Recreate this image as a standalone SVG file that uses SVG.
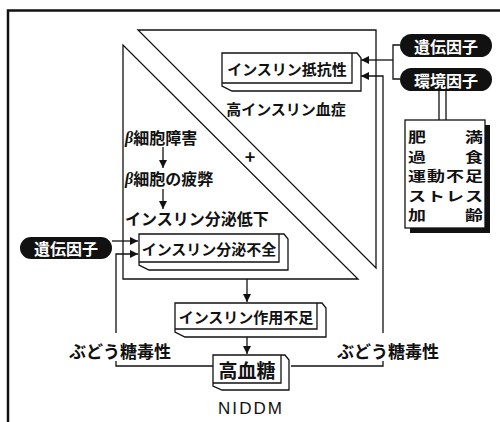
<svg xmlns="http://www.w3.org/2000/svg" width="500" height="422" viewBox="0 0 500 422">
<style>
.ln{fill:none;stroke:#111;stroke-width:1.3}
.ar{fill:none;stroke:#111;stroke-width:1.3;marker-end:url(#ah)}
.t{font-family:"Noto Sans CJK JP","Noto Sans",sans-serif;font-weight:bold;fill:#111;dominant-baseline:central}
.w{font-family:"Noto Sans CJK JP","Noto Sans",sans-serif;font-weight:bold;fill:#fff;dominant-baseline:central;text-anchor:middle;font-size:16px}
.m{text-anchor:middle}
.box{fill:#fff;stroke:#111;stroke-width:1.3;stroke-linejoin:miter}
.pill{fill:#111}
</style>
<defs>
<marker id="ah" markerUnits="userSpaceOnUse" markerWidth="9" markerHeight="8" refX="8" refY="4" orient="auto">
<path d="M0,0 L8,4 L0,8 z" fill="#111"/>
</marker>
</defs>
<rect width="500" height="422" fill="#fff"/>
<g id="frame">
<path d="M8,422 V10.5 H500" fill="none" stroke="#111" stroke-width="2.5"/>
</g>
<g id="triangles">
<polygon class="ln" points="138,30 376,30 376,268"/>
<polygon class="ln" points="123,45 123,279 358,279"/>
<text class="t m" x="250" y="156" font-size="18" font-weight="normal">+</text>
</g>
<g id="connectors">
<path class="ln" d="M400,45 H393 V79 H400"/>
<path class="ar" d="M393,60 H361"/>
<path class="ar" d="M291,366 H383 V361 M383,333 V76 H361"/>
<path class="ar" d="M213,366 H116 V361 M116,333 V254 H138"/>
<path class="ar" d="M112,241 H138"/>
<path class="ln" d="M439,90 V120 M446,90 V120"/>
<path class="ar" d="M163,147 V168"/>
<path class="ar" d="M163,189 V209"/>
<path class="ar" d="M247,279 V302"/>
<path class="ar" d="M247,337 V354"/>
</g>
<g id="resistance">
<path class="box" d="M222,53 H357 L361,58 V91 H232 L222,86 Z"/>
<path class="ln" d="M352,53 V83 H222"/>
<text class="t m" x="287" y="68" font-size="15">インスリン抵抗性</text>
</g>
<g id="hyperinsulinemia">
<text class="t m" x="286" y="108" font-size="15">高インスリン血症</text>
</g>
<g id="gene-right">
<rect class="pill" x="400" y="34" width="92" height="23" rx="11.5"/>
<text class="w" x="446" y="45.5">遺伝因子</text>
</g>
<g id="env-right">
<rect class="pill" x="400" y="68" width="92" height="23" rx="11.5"/>
<text class="w" x="446" y="79.5">環境因子</text>
</g>
<g id="env-list">
<rect x="410" y="125" width="80" height="108" fill="#111"/>
<rect x="405" y="120" width="80" height="108" fill="#fff" stroke="#111" stroke-width="1.3"/>
<g transform="scale(1,0.74)">
<text class="t" font-size="18" letter-spacing="1" x="408" y="185.1">肥　　満</text>
<text class="t" font-size="18" letter-spacing="1" x="408" y="211.5">過　　食</text>
<text class="t" font-size="18" letter-spacing="1" x="408" y="237.8">運動不足</text>
<text class="t" font-size="18" letter-spacing="1" x="408" y="264.2">ストレス</text>
<text class="t" font-size="18" letter-spacing="1" x="408" y="290.5">加　　齢</text>
</g>
</g>
<g id="beta-damage">
<text class="t" x="125" y="137" font-size="16"><tspan font-family="Liberation Serif,serif" font-style="italic">β</tspan>細胞障害</text>
</g>
<g id="beta-fatigue">
<text class="t" x="125" y="178" font-size="16"><tspan font-family="Liberation Serif,serif" font-style="italic">β</tspan>細胞の疲弊</text>
</g>
<g id="secretion-decrease">
<text class="t" x="125" y="218" font-size="16">インスリン分泌低下</text>
</g>
<g id="gene-left">
<rect class="pill" x="20" y="237" width="92" height="22" rx="11"/>
<text class="w" x="66" y="248">遺伝因子</text>
</g>
<g id="secretion-failure">
<path class="box" d="M139,234 H284 L288,239 V270 H149 L139,265 Z"/>
<path class="ln" d="M279,234 V262 H139"/>
<text class="t m" x="209" y="248" font-size="15">インスリン分泌不全</text>
</g>
<g id="action-deficit">
<path class="box" d="M175,303 H322 L326,308 V337 H185 L175,332 Z"/>
<path class="ln" d="M317,303 V329 H175"/>
<text class="t m" x="246" y="316" font-size="15">インスリン作用不足</text>
</g>
<g id="glucotox-left">
<text class="t m" x="120" y="350" font-size="17">ぶどう糖毒性</text>
</g>
<g id="glucotox-right">
<text class="t m" x="388" y="350" font-size="17">ぶどう糖毒性</text>
</g>
<g id="hyperglycemia">
<path class="box" d="M213,355 H285 L289,360 V390 H222 L213,386 Z"/>
<path class="ln" d="M281,355 V383 H213"/>
<text class="t m" x="247" y="369" font-size="19">高血糖</text>
</g>
<g id="niddm">
<text x="250" y="414" font-family="Liberation Sans,Arial,sans-serif" font-size="17" text-anchor="middle" textLength="64" fill="#111">NIDDM</text>
</g>
</svg>
